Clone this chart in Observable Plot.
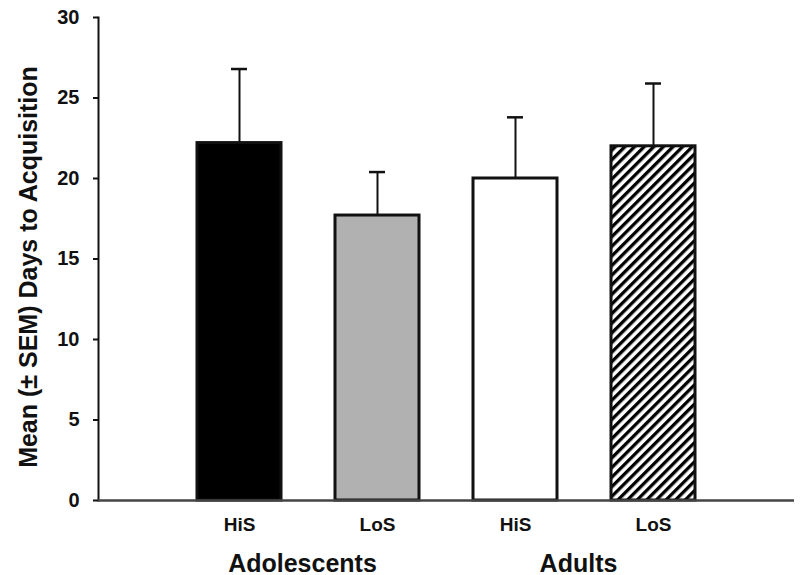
<!DOCTYPE html>
<html>
<head>
<meta charset="utf-8">
<script src="https://cdn.jsdelivr.net/npm/d3@7"></script>
<script src="https://cdn.jsdelivr.net/npm/@observablehq/plot@0.6"></script>
<style>
  html, body { margin: 0; padding: 0; background: white; }
  #chart svg { display: block; }
</style>
</head>
<body>
<div id="chart"></div>
<script>
const groups = ["Adolescents", "Adolescents", "Adults", "Adults"];
const conditions = ["HiS", "LoS", "HiS", "LoS"];
const means = [22.2, 17.7, 20.0, 22.0];
const sems = [4.6, 2.7, 3.8, 3.9];
const fills = ["black", "#b1b1b1", "white", "url(#hatch)"];
const yTicks = [0, 5, 10, 15, 20, 25, 30];
const yLabel = "Mean (\u00b1 SEM) Days to Acquisition";
const groupNames = ["Adolescents", "Adults"];

const data = means.map((m, i) => ({
  key: groups[i] + " " + conditions[i],
  group: groups[i],
  cond: conditions[i],
  mean: m,
  top: m + sems[i],
  fill: fills[i]
}));
const keys = data.map(d => d.key);
const groupData = groupNames.map(g => ({group: g, key: data.find(d => d.group === g).key}));

const font = "'Liberation Sans', Arial, Helvetica, sans-serif";

const plot = Plot.plot({
  width: 800,
  height: 575,
  marginLeft: 98,
  marginRight: 6,
  marginTop: 17,
  marginBottom: 75,
  style: {fontFamily: font, color: "#111", background: "white"},
  x: {domain: keys, paddingInner: 0.39, paddingOuter: 0.70, axis: null},
  y: {domain: [0, 30], axis: null},
  color: {type: "identity"},
  marks: [
    Plot.ruleX(data, {x: "key", y1: "mean", y2: "top", stroke: "#111", strokeWidth: 2}),
    Plot.tickY(data, {x: "key", y: "top", stroke: "#111", strokeWidth: 2.5, insetLeft: 34, insetRight: 34}),
    Plot.barY(data, {x: "key", y: "mean", fill: "fill", stroke: "#111", strokeWidth: 3}),
    Plot.frame({anchor: "left", stroke: "#111", strokeWidth: 2}),
    Plot.ruleY([0], {stroke: "#444", strokeWidth: 2.5}),
    // y ticks (short, outside the frame) and labels
    Plot.ruleY(yTicks, {y: d => d, dx: -5, insetRight: 691, stroke: "#111", strokeWidth: 2}),
    Plot.text(yTicks, {y: d => d, text: d => String(d), frameAnchor: "left", textAnchor: "end",
      dx: -19, fontSize: 20, fontWeight: "bold", fill: "#111"}),
    // x category labels
    Plot.text(data, {x: "key", text: "cond", frameAnchor: "bottom", dy: 24,
      lineAnchor: "middle", fontSize: 19, fontWeight: "bold", fill: "#111"}),
    // group labels
    Plot.text(groupData, {x: "key", text: "group", frameAnchor: "bottom", dx: 63, dy: 63,
      lineAnchor: "middle", fontSize: 25, fontWeight: "bold", fill: "#111"}),
    // y title
    Plot.text([yLabel], {frameAnchor: "left", textAnchor: "middle", rotate: -90, dx: -70, dy: 8,
      lineAnchor: "middle", fontSize: 25, fontWeight: "bold", fill: "#111"})
  ]
});

// hatch pattern definition
const ns = "http://www.w3.org/2000/svg";
const defs = document.createElementNS(ns, "defs");
const pat = document.createElementNS(ns, "pattern");
pat.setAttribute("id", "hatch");
pat.setAttribute("patternUnits", "userSpaceOnUse");
pat.setAttribute("width", "6.8");
pat.setAttribute("height", "6.8");
pat.setAttribute("patternTransform", "rotate(45)");
const bg = document.createElementNS(ns, "rect");
bg.setAttribute("width", "6.8");
bg.setAttribute("height", "6.8");
bg.setAttribute("fill", "white");
const ln = document.createElementNS(ns, "line");
ln.setAttribute("x1", "0"); ln.setAttribute("y1", "0");
ln.setAttribute("x2", "0"); ln.setAttribute("y2", "6.8");
ln.setAttribute("stroke", "black");
ln.setAttribute("stroke-width", "6.6");
pat.appendChild(bg);
pat.appendChild(ln);
defs.appendChild(pat);
plot.insertBefore(defs, plot.firstChild);

document.getElementById("chart").appendChild(plot);
</script>
</body>
</html>
